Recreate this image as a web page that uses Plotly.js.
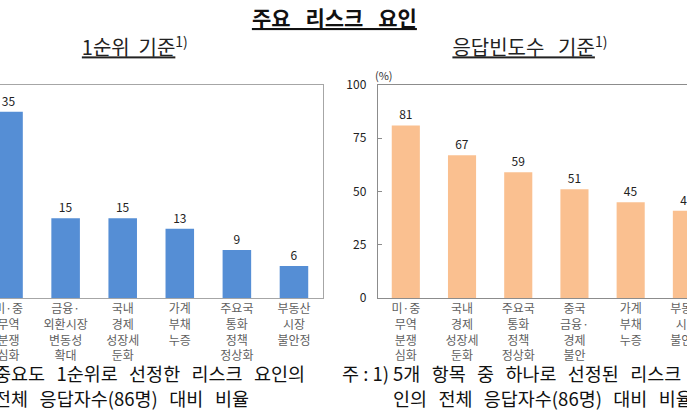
<!DOCTYPE html>
<html>
<head>
<meta charset="utf-8">
<script src="https://cdn.plot.ly/plotly-3.0.1.min.js"></script>
<style>
html,body{margin:0;padding:0;overflow:hidden;background:#fff;width:687px;height:413px;}
#chart{position:absolute;left:-80px;top:0;width:840px;height:413px;}
</style>
</head>
<body>
<div id="chart"></div>
<script>
// ---- data ----
const leftCategories = ["미·중<br>무역<br>분쟁<br>심화", "금융·<br>외환시장<br>변동성<br>확대", "국내<br>경제<br>성장세<br>둔화", "가계<br>부채<br>누증", "주요국<br>통화<br>정책<br>정상화", "부동산<br>시장<br>불안정"];
const leftValues = [35, 15, 15, 13, 9, 6];
const rightCategories = ["미·중<br>무역<br>분쟁<br>심화", "국내<br>경제<br>성장세<br>둔화", "주요국<br>통화<br>정책<br>정상화", "중국<br>금융·<br>경제<br>불안", "가계<br>부채<br>누증", "부동산<br>시장<br>불안정"];
const rightValues = [81, 67, 59, 51, 45, 41];
const rightTicks = [0, 25, 50, 75, 100];

const mainTitle = "주요 리스크 요인";
const leftSubtitle = "1순위 기준";
const rightSubtitle = "응답빈도수 기준";
const unitLabel = "(%)";
const leftNote = ["중요도 1순위로 선정한 리스크 요인의", "전체 응답자수(86명) 대비 비율"];
const rightNotePrefix = "주 : 1)";
const rightNote = ["5개 항목 중 하나로 선정된 리스크 요", "인의 전체 응답자수(86명) 대비 비율"];

// ---- layout helpers ----
const W = 840, H = 413, OFF = 80;
const X = p => (p + OFF) / W;
const Y = p => 1 - p / H;
const FONT = '"Noto Sans CJK KR", "Malgun Gothic", sans-serif';

const traces = [
  {type: 'bar', x: leftCategories, y: leftValues, xaxis: 'x', yaxis: 'y',
   marker: {color: '#558ED5'}, text: leftValues.map(String), textposition: 'outside',
   textfont: {size: 12, color: '#222', family: FONT}, cliponaxis: false, hoverinfo: 'skip'},
  {type: 'bar', x: rightCategories, y: rightValues, xaxis: 'x2', yaxis: 'y2',
   marker: {color: '#FAC090'}, text: rightValues.map(String), textposition: 'outside',
   textfont: {size: 12, color: '#222', family: FONT}, cliponaxis: false, hoverinfo: 'skip'}
];

const yDom = [Y(298), Y(85)];
const ann = (text, x, y, size, opts) => Object.assign({
  text: text, xref: 'paper', yref: 'paper', x: X(x), y: Y(y),
  xanchor: 'center', yanchor: 'middle', showarrow: false,
  font: {size: size, color: '#111', family: FONT}
}, opts || {});

const layout = {
  width: W, height: H,
  margin: {l: 0, r: 0, t: 0, b: 0},
  paper_bgcolor: '#fff', plot_bgcolor: '#fff',
  showlegend: false,
  bargap: 0.5,
  font: {family: FONT, color: '#595959', size: 12},
  xaxis: {domain: [X(-20), X(322.5)], anchor: 'y', type: 'category',
    showline: true, linecolor: '#A6A6A6', linewidth: 1, mirror: true,
    ticks: '', tickfont: {size: 12, color: '#5f5f5f', family: FONT}},
  yaxis: {domain: yDom, anchor: 'x', range: [0, 40], dtick: 10,
    showline: true, linecolor: '#A6A6A6', linewidth: 1, mirror: true,
    showgrid: false, zeroline: false, ticks: 'inside', ticklen: 4, tickcolor: '#A6A6A6',
    tickfont: {size: 12, color: '#222', family: FONT}},
  xaxis2: {domain: [X(377.7), X(715)], anchor: 'y2', type: 'category',
    showline: true, linecolor: '#8C8C8C', linewidth: 1, mirror: true,
    ticks: '', tickfont: {size: 12, color: '#5f5f5f', family: FONT}},
  yaxis2: {domain: yDom, anchor: 'x2', range: [0, 100], tickvals: rightTicks,
    showline: true, linecolor: '#8C8C8C', linewidth: 1, mirror: true,
    showgrid: false, zeroline: false, ticks: 'inside', ticklen: 4, tickcolor: '#8C8C8C',
    ticklabelstandoff: 8,
    tickfont: {size: 12, color: '#222', family: FONT}},
  annotations: [
    ann('<b><u>' + mainTitle + '</u></b>', 334, 17, 21),                       // 0
    ann('<u>' + leftSubtitle + '</u><sup>1)</sup>', 135.5, 46, 20, {font: {size: 20, color: '#222', family: FONT}}), // 1
    ann('<u>' + rightSubtitle + '</u><sup>1)</sup>', 530, 46, 20, {font: {size: 20, color: '#222', family: FONT}}),  // 2
    ann(unitLabel, 384, 75, 11, {font: {size: 11, color: '#333', family: FONT}}), // 3
    ann(leftNote[0], -8, 373, 18.5, {xanchor: 'left', align: 'left'}),         // 4
    ann(leftNote[1], -8, 398, 18.5, {xanchor: 'left', align: 'left'}),         // 5
    ann(rightNotePrefix, 391, 373, 18.5, {xanchor: 'right', align: 'right'}),  // 6
    ann(rightNote[0], 391, 373, 18.5, {xanchor: 'left', align: 'left'}),       // 7
    ann(rightNote[1], 391, 398, 18.5, {xanchor: 'left', align: 'left'})        // 8
  ]
};

function textEl(i) {
  return document.querySelector('#chart .annotation[data-index="' + i + '"] text.annotation-text');
}
// widen the gaps between words so each text spans the width it has in the reference
function spreadTo(i, targetWidth) {
  const t = textEl(i);
  if (!t) return 0;
  const n = (t.textContent.match(/[ \u00a0]/g) || []).length;
  if (!n) return 0;
  const w = t.getBBox().width;
  const ws = Math.max(0, (targetWidth - w) / n);
  t.style.wordSpacing = ws + 'px';
  return ws;
}
function spreadBy(i, ws) {
  const t = textEl(i);
  if (t) t.style.wordSpacing = ws + 'px';
}

Plotly.newPlot('chart', traces, layout, {staticPlot: true, displayModeBar: false}).then(function () {
  spreadTo(0, 165);
  spreadTo(1, 106);
  spreadTo(2, 155);
  const ws = spreadTo(4, 311);
  spreadTo(5, 255);
  spreadBy(7, ws);
  spreadBy(8, ws);
});
</script>
</body>
</html>
